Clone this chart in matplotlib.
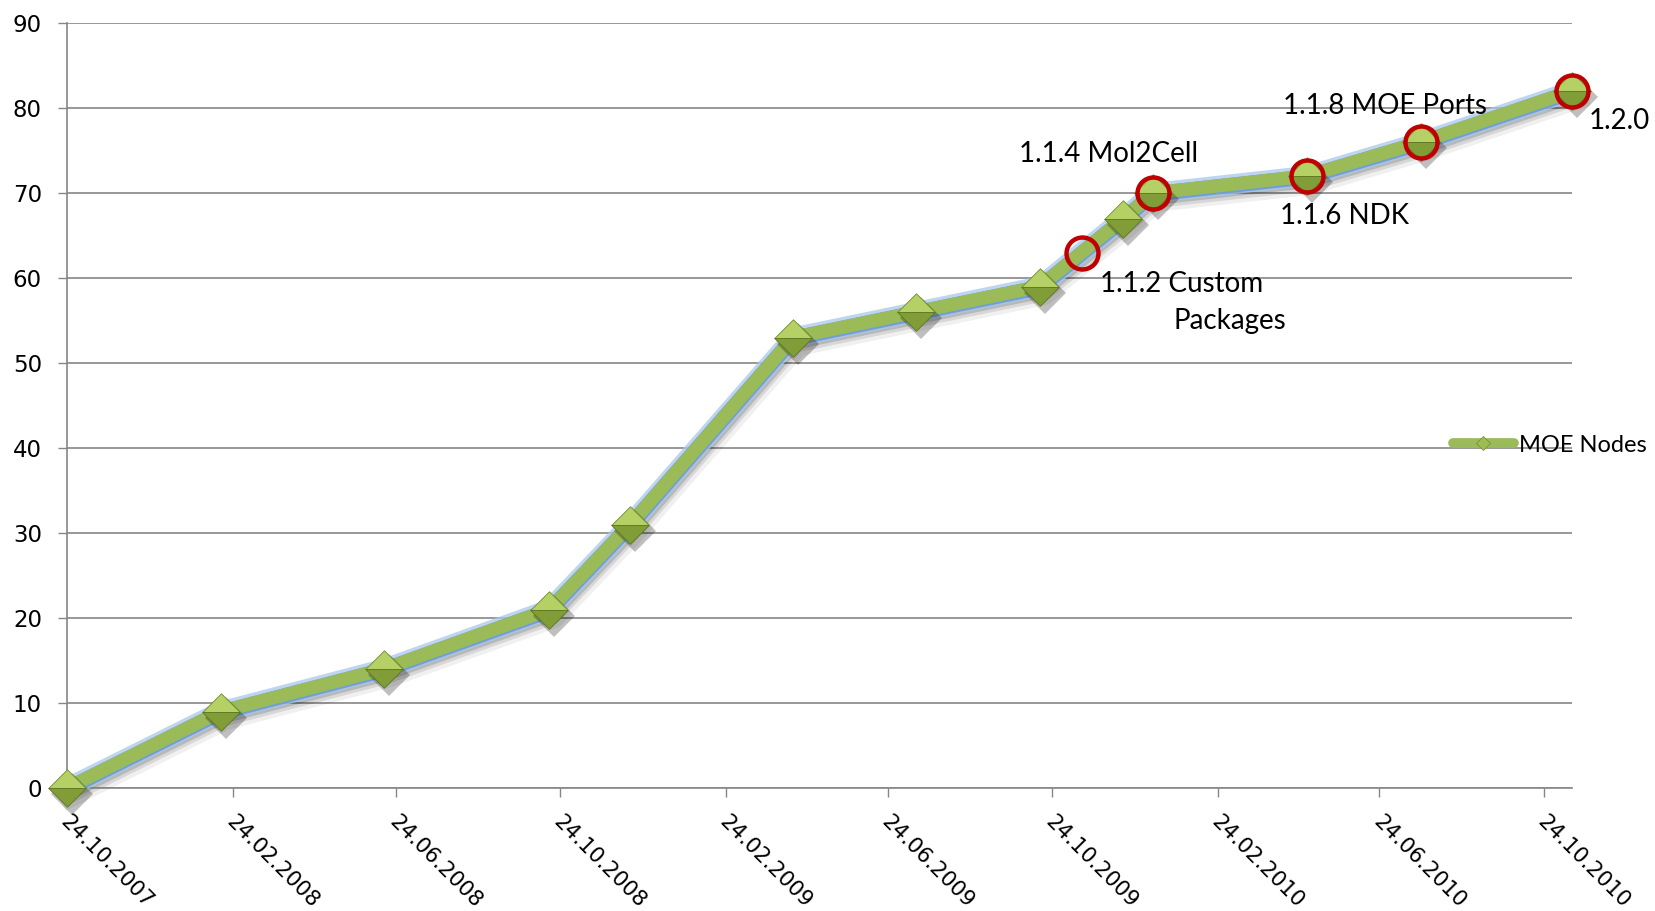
import numpy as np
import pandas as pd
import matplotlib
matplotlib.use("Agg")
from matplotlib import pyplot as plt
from matplotlib.lines import Line2D
from matplotlib.transforms import offset_copy, ScaledTranslation

# data
dates = pd.to_datetime(["2007-10-24", "2008-02-15", "2008-06-15", "2008-10-16", "2008-12-15",
                        "2009-04-15", "2009-07-15", "2009-10-15", "2009-12-16", "2010-01-07",
                        "2010-05-01", "2010-07-25", "2010-11-14"]).to_pydatetime()
nodes = [0, 9, 14, 21, 31, 53, 56, 59, 67, 70, 72, 76, 82]
series_name = "MOE Nodes"

# releases (red circles)
rel_dates = pd.to_datetime(["2009-11-15", "2010-01-07", "2010-05-01",
                            "2010-07-25", "2010-11-14"]).to_pydatetime()
rel_values = [63, 70, 72, 76, 82]
rel_labels = [["1.1.2 Custom", "Packages"], ["1.1.4 Mol2Cell"], ["1.1.6 NDK"],
              ["1.1.8 MOE Ports"], ["1.2.0"]]
# label offsets in pixels from the circle (left edge, vertical centre of text)
rel_offsets = [[(18, -31), (92, -68)], [(-134, 39)], [(-27, -40)], [(-138, 36)], [(17, -30)]]

tick_labels = ["24.10.2007", "24.02.2008", "24.06.2008", "24.10.2008", "24.02.2009",
               "24.06.2009", "24.10.2009", "24.02.2010", "24.06.2010", "24.10.2010"]
tick_dates = pd.to_datetime(tick_labels, format="%d.%m.%Y").to_pydatetime()
yticks = list(range(0, 100, 10))

W, H = 1656, 911
fig = plt.figure(figsize=(W / 100, H / 100), dpi=100)
ax = fig.add_axes([67 / W, 1 - 788 / H, (1572 - 67) / W, (788 - 23) / H])

grey = "#868686"
green = "#9BBB59"

# line shadow + glow
for dx, dy, lw, a in [(4, -7, 17, 0.06), (3, -6, 13, 0.10), (3, -5, 10, 0.14)]:
    ax.plot(dates, nodes, color="black", lw=lw, alpha=a, clip_on=False,
            transform=offset_copy(ax.transData, fig=fig, x=dx, y=dy, units="dots"),
            solid_joinstyle="round", zorder=2)
ax.plot(dates, nodes, color="#A9C8EE", lw=14.5, alpha=0.75, clip_on=False,
        solid_joinstyle="round", zorder=3)
ax.plot(dates, nodes, color="#6F9FD8", lw=11, clip_on=False,
        transform=offset_copy(ax.transData, fig=fig, x=0, y=-1, units="dots"),
        solid_joinstyle="round", zorder=3)
ax.plot(dates, nodes, color=green, lw=9.5, clip_on=False,
        solid_joinstyle="round", zorder=4)

# diamond markers: shadow then two faces
top_half = [(-1, 0), (0, 1), (1, 0), (-1, 0)]
bot_half = [(-1, 0), (0, -1), (1, 0), (-1, 0)]
ms = 27
ax.plot(dates, nodes, linestyle="none", marker="D", ms=ms / 1.414 + 2, color="black",
        alpha=0.25, mew=0, clip_on=False, zorder=5,
        transform=offset_copy(ax.transData, fig=fig, x=5, y=-6, units="dots"))
ax.plot(dates, nodes, linestyle="none", marker=top_half, ms=ms, mfc="#B5D165",
        mec="#6E8C2C", mew=0.6, clip_on=False, zorder=6)
ax.plot(dates, nodes, linestyle="none", marker=bot_half, ms=ms, mfc="#809D38",
        mec="#5C7722", mew=0.6, clip_on=False, zorder=6)

# release circles
ax.plot(rel_dates, rel_values, linestyle="none", marker="o", ms=23, mfc="none",
        mec="#C00000", mew=3.2, clip_on=False, zorder=7)

for d, v, lines, offs in zip(rel_dates, rel_values, rel_labels, rel_offsets):
    for txt, (ox, oy) in zip(lines, offs):
        ax.annotate(txt, xy=(d, v), xytext=(ox, oy), textcoords="offset pixels",
                    ha="left", va="center", fontsize=20, family="Lato",
                    annotation_clip=False, zorder=8)

# axes styling
ax.set_xlim(dates[0], dates[-1])
ax.set_ylim(0, 90)
ax.set_yticks(yticks)
ax.set_xticks(tick_dates)
ax.set_xticklabels(tick_labels, rotation=-45, ha="left", va="center",
                   rotation_mode="anchor", fontsize=15.3)
ax.tick_params(axis="x", length=6.5, width=1, color=grey, pad=16)
ax.tick_params(axis="y", length=6.5, width=1, color=grey, pad=11.5, labelsize=16.5)
shift = ScaledTranslation(-3 / 100, 0, fig.dpi_scale_trans)
for lab in ax.get_xticklabels():
    lab.set_transform(lab.get_transform() + shift)

ax.grid(axis="y", color=grey, lw=1.2)
ax.set_axisbelow(True)
for s in ["top", "right"]:
    ax.spines[s].set_visible(False)
for s in ["left", "bottom"]:
    ax.spines[s].set_color(grey)
    ax.spines[s].set_linewidth(1.2)

handle = Line2D([], [], color=green, lw=7, solid_capstyle="round",
                marker="D", ms=7, mfc="#9DBD52", mec="#6E8C2C", mew=0.5)
fig.legend([handle], [series_name], loc="center left",
           bbox_to_anchor=(1448 / W, 1 - 445 / H), frameon=False,
           prop={"family": "Lato", "size": 17}, handlelength=2.6,
           handletextpad=0.2, borderpad=0.2, borderaxespad=0)

fig.savefig("out.png", dpi=100)
